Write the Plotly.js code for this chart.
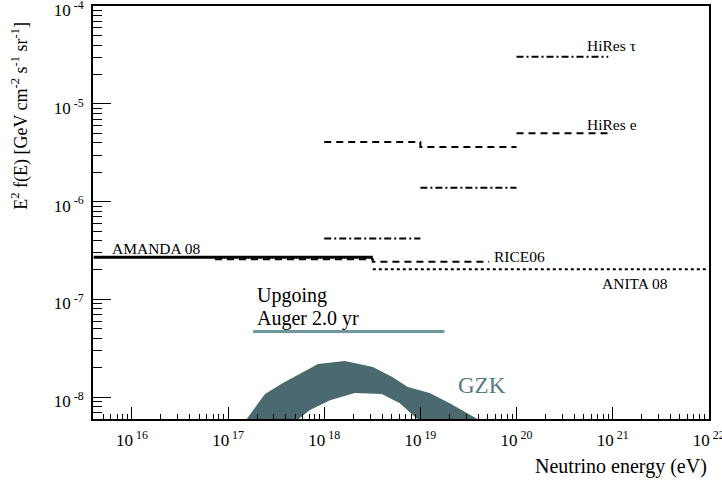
<!DOCTYPE html>
<html>
<head>
<meta charset="utf-8">
<script src="https://cdn.plot.ly/plotly-3.0.1.min.js"></script>
<style>html,body{margin:0;padding:0;background:#fff;}#chart{width:722px;height:485px;}</style>
</head>
<body>
<div id="chart"></div>
<script>
// ---- data (energy in eV, flux E^2 f(E) in GeV cm^-2 s^-1 sr^-1) ----
const amandaE = [4.0e15, 3.2e18];
const amandaF = [2.7e-7, 2.7e-7];

const riceE = [7.3e16, 3.2e18, 3.2e18, 5.2e19];
const riceF = [2.57e-7, 2.57e-7, 2.42e-7, 2.42e-7];

const riceUpE = [1e18, 1e19, 1e19, 1e20];
const riceUpF = [4.07e-6, 4.07e-6, 3.63e-6, 3.63e-6];

const hiresEE = [1e20, 1e21];
const hiresEF = [5.0e-6, 5.0e-6];

const hiresTauE = [1e20, 9e20];
const hiresTauF = [3.03e-5, 3.03e-5];

const dashDotLowE = [1e18, 1e19];
const dashDotLowF = [4.2e-7, 4.2e-7];
const dashDotHighE = [1e19, 1e20];
const dashDotHighF = [1.39e-6, 1.39e-6];

const anitaE = [3.2e18, 1e22];
const anitaF = [2.03e-7, 2.03e-7];

const augerE = [1.82e17, 1.78e19];
const augerF = [4.7e-8, 4.7e-8];

// GZK band: upper edge left->right, then lower edge right->left
const gzkE = [1.55e17, 2.42e17, 3.72e17, 5.60e17, 8.61e17, 1.64e18, 3.21e18, 5.16e18, 7.40e18, 1.25e19, 2.02e19, 4.0e19,
              9.4e18, 6.11e18, 3.97e18, 2.08e18, 1.15e18, 7.10e17, 5.33e17];
const gzkF = [5.9e-9, 1.074e-8, 1.393e-8, 1.72e-8, 2.18e-8, 2.34e-8, 2.03e-8, 1.60e-8, 1.27e-8, 1.10e-8, 8.67e-9, 5.9e-9,
              5.9e-9, 8.67e-9, 1.074e-8, 1.10e-8, 9.31e-9, 7.36e-9, 5.9e-9];

const xTickVals = [1e16, 1e17, 1e18, 1e19, 1e20, 1e21, 1e22];
const xTickText = ['10<sup> 16</sup>', '10<sup> 17</sup>', '10<sup> 18</sup>', '10<sup> 19</sup>', '10<sup> 20</sup>', '10<sup> 21</sup>', '10<sup> 22</sup>'];
const yTickVals = [1e-8, 1e-7, 1e-6, 1e-5, 1e-4];
const yTickText = ['10<sup> -8</sup>', '10<sup> -7</sup>', '10<sup> -6</sup>', '10<sup> -5</sup>', '10<sup> -4</sup>'];

const FONT = 'Liberation Serif';
const dashed = '7px,5px';
const dashDot = '7px,3px,2px,3px';

function seg(x, y, color, width, dash) {
  return {x: x, y: y, mode: 'lines', type: 'scatter', hoverinfo: 'skip',
          line: {color: color, width: width, dash: dash}, showlegend: false};
}

const traces = [
  {x: gzkE, y: gzkF, type: 'scatter', mode: 'lines', fill: 'toself', fillcolor: '#4b6a70',
   line: {width: 0, color: '#4b6a70'}, hoverinfo: 'skip', showlegend: false},
  seg(augerE, augerF, '#6e989d', 3, 'solid'),
  seg(amandaE, amandaF, '#000', 3, 'solid'),
  seg(riceE, riceF, '#000', 2, dashed),
  seg(riceUpE, riceUpF, '#000', 2, dashed),
  seg(hiresEE, hiresEF, '#000', 2, dashed),
  seg(hiresTauE, hiresTauF, '#000', 2, dashDot),
  seg(dashDotLowE, dashDotLowF, '#000', 2, dashDot),
  seg(dashDotHighE, dashDotHighF, '#000', 2, dashDot),
  seg(anitaE, anitaF, '#000', 2, '3px,3px')
];

function lab(text, x, y, xanchor, size, color) {
  return {text: text, xref: 'x', yref: 'y', x: Math.log10(x), y: Math.log10(y), xanchor: xanchor, yanchor: 'middle',
          showarrow: false, font: {family: FONT, size: size, color: color || '#000'}};
}

const layout = {
  width: 722, height: 485,
  margin: {l: 93, r: 13, t: 6, b: 66},
  paper_bgcolor: '#fff', plot_bgcolor: '#fff',
  font: {family: FONT, size: 15, color: '#000'},
  showlegend: false,
  xaxis: {
    type: 'log', range: [15.595, 22.002], showgrid: false, zeroline: false,
    showline: true, linewidth: 2, linecolor: '#000', mirror: true,
    ticks: 'inside', ticklen: 12, tickwidth: 1, tickcolor: '#000',
    tickvals: xTickVals, ticktext: xTickText, ticklabelstandoff: 5, ticklabeloverflow: 'allow',
    tickfont: {family: FONT, size: 17},
    minor: {ticks: 'inside', ticklen: 5, tickwidth: 1, tickcolor: '#000', dtick: 'D1', showgrid: false}
  },
  yaxis: {
    type: 'log', range: [-8.224, -3.998], showgrid: false, zeroline: false,
    showline: true, linewidth: 2, linecolor: '#000', mirror: true,
    ticks: 'inside', ticklen: 18, tickwidth: 1, tickcolor: '#000',
    tickvals: yTickVals, ticktext: yTickText, ticklabelstandoff: 4, ticklabelshift: 4, ticklabeloverflow: 'allow',
    tickfont: {family: FONT, size: 17},
    minor: {ticks: 'inside', ticklen: 9, tickwidth: 1, tickcolor: '#000', dtick: 'D1', showgrid: false}
  },
  annotations: [
    {text: 'E<sup>2</sup> f(E) [GeV cm<sup>-2</sup> s<sup>-1</sup> sr<sup>-1</sup>]', xref: 'paper', yref: 'paper',
     x: -0.1185, y: 0.734, xanchor: 'center', yanchor: 'middle', textangle: -90, showarrow: false,
     font: {family: FONT, size: 18}},
    {text: 'Neutrino energy (eV)', xref: 'paper', yref: 'paper', x: 1.0, y: -0.115, xanchor: 'right', yanchor: 'middle',
     showarrow: false, font: {family: FONT, size: 20}},
    lab('AMANDA 08', 5.9e15, 3.3e-7, 'left', 15.5),
    lab('RICE06', 5.6e19, 2.72e-7, 'left', 15.5),
    lab('ANITA 08', 7.3e20, 1.46e-7, 'left', 15.5),
    lab('HiRes τ', 5.1e20, 3.94e-5, 'left', 15.5),
    lab('HiRes e', 5.1e20, 6.1e-6, 'left', 15.5),
    lab('Upgoing', 1.9e17, 1.1e-7, 'left', 20),
    lab('Auger 2.0 yr', 1.9e17, 6.38e-8, 'left', 20),
    lab('GZK', 2.37e19, 1.33e-8, 'left', 23, '#567b81')
  ]
};

Plotly.newPlot('chart', traces, layout, {displayModeBar: false, staticPlot: true});
</script>
</body>
</html>
